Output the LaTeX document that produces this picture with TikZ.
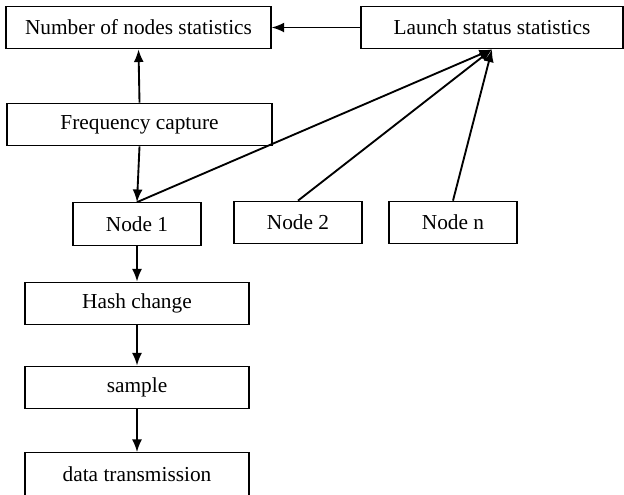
\documentclass[tikz,border=0pt]{standalone}
\usepackage{fontspec}
\setmainfont{Liberation Serif}
\usetikzlibrary{arrows.meta}

\begin{document}
\begin{tikzpicture}[x=0.75pt,y=0.75pt,yscale=-1,xscale=1,
  box/.style={draw,line width=0.8pt,minimum height=32pt,inner sep=0pt,font=\fontsize{16}{18}\selectfont},
  flow/.style={-{Latex[length=9.5pt,width=7.5pt]},line width=1.4pt}]
\useasboundingbox (0,0) rectangle (624,494);
\clip (0,0) rectangle (624,494);

% Text Nodes
\node [box,minimum width=198.75pt] (numstat) at (138.5,27.5) {Number of nodes statistics};
\node [box,minimum width=196.5pt] (launch) at (492,27.5) {Launch status statistics};
\node [box,minimum width=198.75pt] (freq) at (139.5,124.5) {Frequency capture};
\node [box,minimum width=96pt] (node1) at (137,224) {Node 1};
\node [box,minimum width=96pt] (node2) at (298,222.5) {Node 2};
\node [box,minimum width=96pt] (noden) at (453,222.5) {Node n};
\node [box,minimum width=168pt] (hash) at (137,303.5) {Hash change};
\node [box,minimum width=168pt] (sample) at (137,387.5) {sample};
\node [box,minimum width=168pt] (trans) at (137,474) {data transmission};

% Straight Lines
\draw [flow] (freq.north) -- (numstat.south);
\draw [flow] (launch.west) -- (numstat.east);
\draw [flow] (freq.south) -- (node1.north);
\draw [flow] (node1.north) -- (launch.south);
\draw [flow] (node2.north) -- (launch.south);
\draw [flow] (noden.north) -- (launch.south);
\draw [flow] (node1.south) -- (hash.north);
\draw [flow] (hash.south) -- (sample.north);
\draw [flow] (sample.south) -- (trans.north);

\end{tikzpicture}
\end{document}
